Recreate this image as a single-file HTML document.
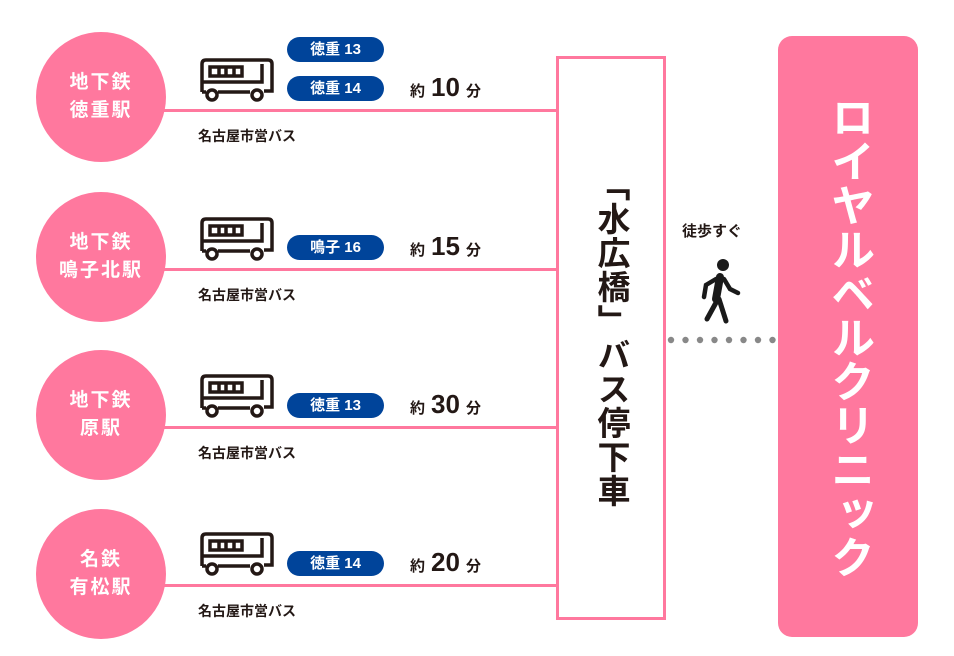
<!DOCTYPE html>
<html><head><meta charset="utf-8"><style>
body{margin:0;width:954px;height:656px;background:#fff;position:relative;overflow:hidden;font-family:"Liberation Sans","Noto Sans CJK JP",sans-serif;font-weight:bold;color:#231815}
.a{position:absolute}
.c{position:absolute;left:36px;width:130px;height:130px;border-radius:50%;background:#ff789e;color:#fff;font-size:19px;line-height:28px;text-align:center;display:flex;align-items:center;justify-content:center;letter-spacing:2px}
.l{position:absolute;left:160px;width:397px;height:3px;background:#ff789e}
.p{position:absolute;left:287px;width:97px;height:25px;border-radius:13px;background:#00449a;color:#fff;font-size:15px;line-height:25px;text-align:center}
.t{position:absolute;left:410px;font-size:15px;white-space:nowrap}
.t b{font-size:26px;margin:0 6px}
.cap{position:absolute;left:198px;font-size:14px}
.bus{position:absolute;left:198px}
</style></head><body>
<svg width="0" height="0" style="position:absolute"><defs><g id="bus" fill="none" stroke="#231815" stroke-width="3.5"><path d="M4 34 V6 Q4 2 8 2 H70 Q74 2 74 6 V33 H66"/><path d="M20 34 H52"/><path d="M4 34 H8"/><rect x="12" y="9" width="32" height="9"/><path d="M21 9v9M28 9v9M36 9v9"/><path d="M4 24 H64 V6"/><circle cx="14" cy="37" r="5"/><circle cx="59" cy="37" r="5"/></g></defs></svg>

<div class="c" style="top:32px">地下鉄<br>徳重駅</div>
<div class="c" style="top:192px">地下鉄<br>鳴子北駅</div>
<div class="c" style="top:350px">地下鉄<br>原駅</div>
<div class="c" style="top:509px">名鉄<br>有松駅</div>

<div class="l" style="top:109px"></div>
<div class="l" style="top:268px"></div>
<div class="l" style="top:426px"></div>
<div class="l" style="top:584px"></div>

<svg class="bus" style="top:58px" width="78" height="46"><use href="#bus"/></svg>
<svg class="bus" style="top:217px" width="78" height="46"><use href="#bus"/></svg>
<svg class="bus" style="top:374px" width="78" height="46"><use href="#bus"/></svg>
<svg class="bus" style="top:532px" width="78" height="46"><use href="#bus"/></svg>

<div class="p" style="top:37px">徳重 13</div>
<div class="p" style="top:76px">徳重 14</div>
<div class="p" style="top:235px">鳴子 16</div>
<div class="p" style="top:393px">徳重 13</div>
<div class="p" style="top:551px">徳重 14</div>

<div class="t" style="top:72px">約<b>10</b>分</div>
<div class="t" style="top:231px">約<b>15</b>分</div>
<div class="t" style="top:389px">約<b>30</b>分</div>
<div class="t" style="top:547px">約<b>20</b>分</div>

<div class="cap" style="top:126px">名古屋市営バス</div>
<div class="cap" style="top:285px">名古屋市営バス</div>
<div class="cap" style="top:443px">名古屋市営バス</div>
<div class="cap" style="top:601px">名古屋市営バス</div>

<div class="a" style="left:556px;top:56px;width:104px;height:558px;border:3px solid #ff789e;display:flex;align-items:center;justify-content:center">
<div style="writing-mode:vertical-rl;font-size:33px;line-height:40px;letter-spacing:1px">「水広橋」バス停下車</div></div>

<div class="a" style="left:682px;top:220px;font-size:15px">徒歩すぐ</div>
<svg class="a" style="left:700px;top:255px" width="46" height="72"><circle cx="23" cy="10" r="6" fill="#1a1a1a"/><g stroke="#1a1a1a" stroke-linecap="round" fill="none"><path d="M20 22 L16 44" stroke-width="8"/><path d="M16 24 L6 30 L4 42" stroke-width="4.5"/><path d="M24 24 L30 34 L38 38" stroke-width="4.5"/><path d="M18 44 L7 64" stroke-width="5"/><path d="M19 44 L26 66" stroke-width="5"/></g></svg>

<svg class="a" style="left:666px;top:334px" width="112" height="12"><g fill="#888"><circle cx="5" cy="6" r="3.2"/><circle cx="19.5" cy="6" r="3.2"/><circle cx="34" cy="6" r="3.2"/><circle cx="48.5" cy="6" r="3.2"/><circle cx="63" cy="6" r="3.2"/><circle cx="77.5" cy="6" r="3.2"/><circle cx="92" cy="6" r="3.2"/><circle cx="106.5" cy="6" r="3.2"/></g></svg>

<div class="a" style="left:778px;top:36px;width:140px;height:601px;border-radius:14px;background:#ff789e;display:flex;align-items:center;justify-content:center">
<div style="writing-mode:vertical-rl;font-size:44px;line-height:50px;color:#fff;letter-spacing:0">ロイヤルベルクリニック</div></div>
</body></html>
